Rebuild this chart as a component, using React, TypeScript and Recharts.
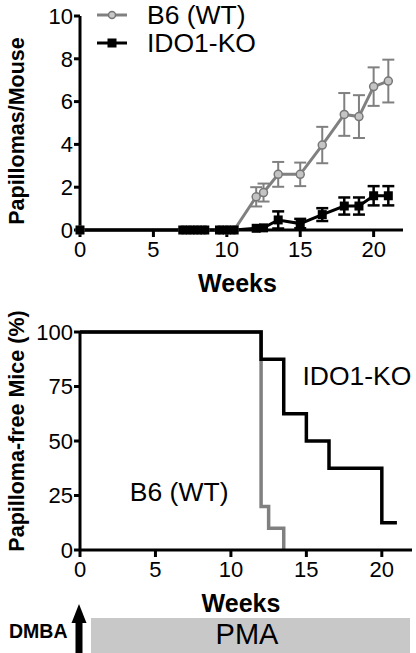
import React from 'react';
import {
  LineChart, Line, XAxis, YAxis, ErrorBar, Legend, ReferenceDot,
} from 'recharts';

// papillomas per mouse over time (top panel)
const weeks = [0, 7, 7.5, 8, 8.5, 9.5, 10, 10.5, 12, 12.5, 13.5, 15, 16.5, 18, 19, 20, 21];
const wtMean = [0, 0, 0, 0, 0, 0, 0, 0, 1.55, 1.75, 2.6, 2.6, 3.97, 5.4, 5.3, 6.7, 6.96];
const wtSem = [null, null, null, null, null, null, null, null, 0.45, 0.42, 0.58, 0.55, 0.85, 1.0, 1.0, 0.9, 1.0];
const koMean = [0, 0, 0, 0, 0, 0, 0, 0, 0.08, 0.1, 0.47, 0.3, 0.72, 1.12, 1.12, 1.6, 1.6];
const koSem = [null, null, null, null, null, null, null, null, 0, 0, 0.4, 0.22, 0.3, 0.4, 0.4, 0.45, 0.45];

// papilloma-free survival (bottom panel)
const koFreeWeeks = [0, 12, 13.5, 15, 16.5, 20, 21];
const koFree = [100, 87.5, 62.5, 50, 37.5, 12.5, 12.5];
const wtFreeWeeks = [0, 12, 12.5, 13.5];
const wtFree = [100, 20, 10, 0];

const xTicks = [0, 5, 10, 15, 20];
const topYTicks = [0, 2, 4, 6, 8, 10];
const bottomYTicks = [0, 25, 50, 75, 100];

const GRAY = '#808080';
const FONT = '"Liberation Sans", Arial, Helvetica, sans-serif';

const topData = weeks.map((w, i) => ({
  week: w, wt: wtMean[i], wtErr: wtSem[i], ko: koMean[i], koErr: koSem[i],
}));
const koFreeData = koFreeWeeks.map((w, i) => ({ week: w, pct: koFree[i] }));
const wtFreeData = wtFreeWeeks.map((w, i) => ({ week: w, pct: wtFree[i] }));

const tickStyle = { fill: '#000', fontSize: 22, fontFamily: FONT };
const axisLine = { stroke: '#000', strokeWidth: 3 };

const yLabel = (text: string, dy: number) => (props: any) => {
  const vb = props.viewBox;
  const cx = 17;
  const cy = vb.y + vb.height / 2 + dy;
  return (
    <text x={cx} y={cy} transform={`rotate(-90 ${cx} ${cy})`} textAnchor="middle"
      dominantBaseline="central" fontFamily={FONT} fontWeight="bold" fontSize={21.5} fill="#000">
      {text}
    </text>
  );
};

const xLabel = (dx: number) => (props: any) => {
  const vb = props.viewBox;
  return (
    <text x={vb.x + vb.width / 2 + dx} y={vb.y + 62} textAnchor="middle"
      fontFamily={FONT} fontWeight="bold" fontSize={25} fill="#000">
      Weeks
    </text>
  );
};

const squareDot = (props: any) => (
  <rect key={`sq-${props.index}`} x={props.cx - 4.5} y={props.cy - 4.5} width={9} height={9} fill="#000" />
);

const renderLegend = (props: any) => {
  const items = (props.payload || []).filter((p: any) => p.dataKey === 'wt' || p.dataKey === 'ko');
  return (
    <div style={{ fontFamily: FONT }}>
      {items.map((p: any) => (
        <div key={p.dataKey} style={{ display: 'flex', alignItems: 'center', height: 28 }}>
          <svg width={50} height={20}>
            <line x1={0} y1={10} x2={30} y2={10} stroke={p.color} strokeWidth={3} />
            {p.dataKey === 'wt'
              ? <circle cx={15} cy={10} r={3.5} fill="#c8c8c8" stroke="#777" strokeWidth={1.5} />
              : <rect x={10.5} y={5.5} width={9} height={9} fill="#000" />}
          </svg>
          <span style={{ fontSize: 26.5, color: '#000', lineHeight: '28px' }}>{p.value}</span>
        </div>
      ))}
    </div>
  );
};

export default function App() {
  return (
    <div style={{ position: 'absolute', left: 0, top: 0, width: 416, height: 653, background: '#fff' }}>
      <div style={{ position: 'absolute', left: 0, top: 0 }}>
        <LineChart width={416} height={300} data={topData}
          margin={{ top: 16, right: 13, bottom: 0, left: 0 }}>
          <XAxis dataKey="week" type="number" domain={[0, 22]} ticks={xTicks} height={70}
            tick={tickStyle} tickSize={7} tickMargin={4} axisLine={axisLine}
            tickLine={axisLine} label={xLabel(-4)} />
          <YAxis type="number" domain={[0, 10]} ticks={topYTicks} width={80}
            tick={tickStyle} tickSize={6} tickMargin={1} axisLine={axisLine}
            tickLine={axisLine} label={yLabel('Papillomas/Mouse', 8)} />
          <Legend layout="vertical" align="center" verticalAlign="middle"
            wrapperStyle={{ left: 97, top: 1, width: 240 }} content={renderLegend} />
          <Line dataKey="wt" name="B6 (WT)" stroke={GRAY} strokeWidth={3}
            dot={{ r: 4, fill: '#c4c4c4', stroke: '#777', strokeWidth: 1.5 }}
            activeDot={false} isAnimationActive={false}>
            <ErrorBar dataKey="wtErr" direction="y" width={6} stroke={GRAY} strokeWidth={2}
              isAnimationActive={false} />
          </Line>
          <Line dataKey="ko" name="IDO1-KO" stroke="#000" strokeWidth={3}
            dot={squareDot} activeDot={false} isAnimationActive={false}>
            <ErrorBar dataKey="koErr" direction="y" width={6} stroke="#000" strokeWidth={2.5}
              isAnimationActive={false} />
          </Line>
        </LineChart>
      </div>

      <div style={{ position: 'absolute', left: 0, top: 300 }}>
        <LineChart width={416} height={320} margin={{ top: 32, right: 4, bottom: 0, left: 0 }}>
          <XAxis dataKey="week" type="number" domain={[0, 22]} ticks={xTicks} height={70}
            tick={tickStyle} tickSize={7} tickMargin={4} axisLine={axisLine}
            tickLine={axisLine} label={xLabel(-5)} allowDuplicatedCategory={false} />
          <YAxis type="number" domain={[0, 100]} ticks={bottomYTicks} width={80}
            tick={tickStyle} tickSize={6} tickMargin={1} axisLine={axisLine}
            tickLine={axisLine} label={yLabel('Papilloma-free Mice (%)', -10)} />
          <Line data={wtFreeData} dataKey="pct" name="B6 (WT)" type="stepAfter" stroke={GRAY}
            strokeWidth={3.5} dot={false} activeDot={false} isAnimationActive={false} />
          <Line data={koFreeData} dataKey="pct" name="IDO1-KO" type="stepAfter" stroke="#000"
            strokeWidth={3.5} dot={false} activeDot={false} isAnimationActive={false} />
          <ReferenceDot x={18.35} y={80} r={0} fill="none" stroke="none"
            label={{ value: 'IDO1-KO', position: 'center', fontSize: 26.5, fill: '#000', fontFamily: FONT }} />
          <ReferenceDot x={6.57} y={27} r={0} fill="none" stroke="none"
            label={{ value: 'B6 (WT)', position: 'center', fontSize: 26.5, fill: '#000', fontFamily: FONT }} />
        </LineChart>
      </div>

      <svg style={{ position: 'absolute', left: 0, top: 600 }} width={416} height={53}>
        <text x={9} y={38} fontFamily={FONT} fontWeight="bold" fontSize={19.5} fill="#000">DMBA</text>
        <rect x={75.5} y={20} width={7} height={33} fill="#000" />
        <polygon points="71.5,23 79,4 86.5,23" fill="#000" />
        <rect x={91} y={18} width={319} height={35} fill="#c8c8c8" />
        <text x={247} y={44} textAnchor="middle" fontFamily={FONT} fontSize={29} fill="#000">PMA</text>
      </svg>
    </div>
  );
}
